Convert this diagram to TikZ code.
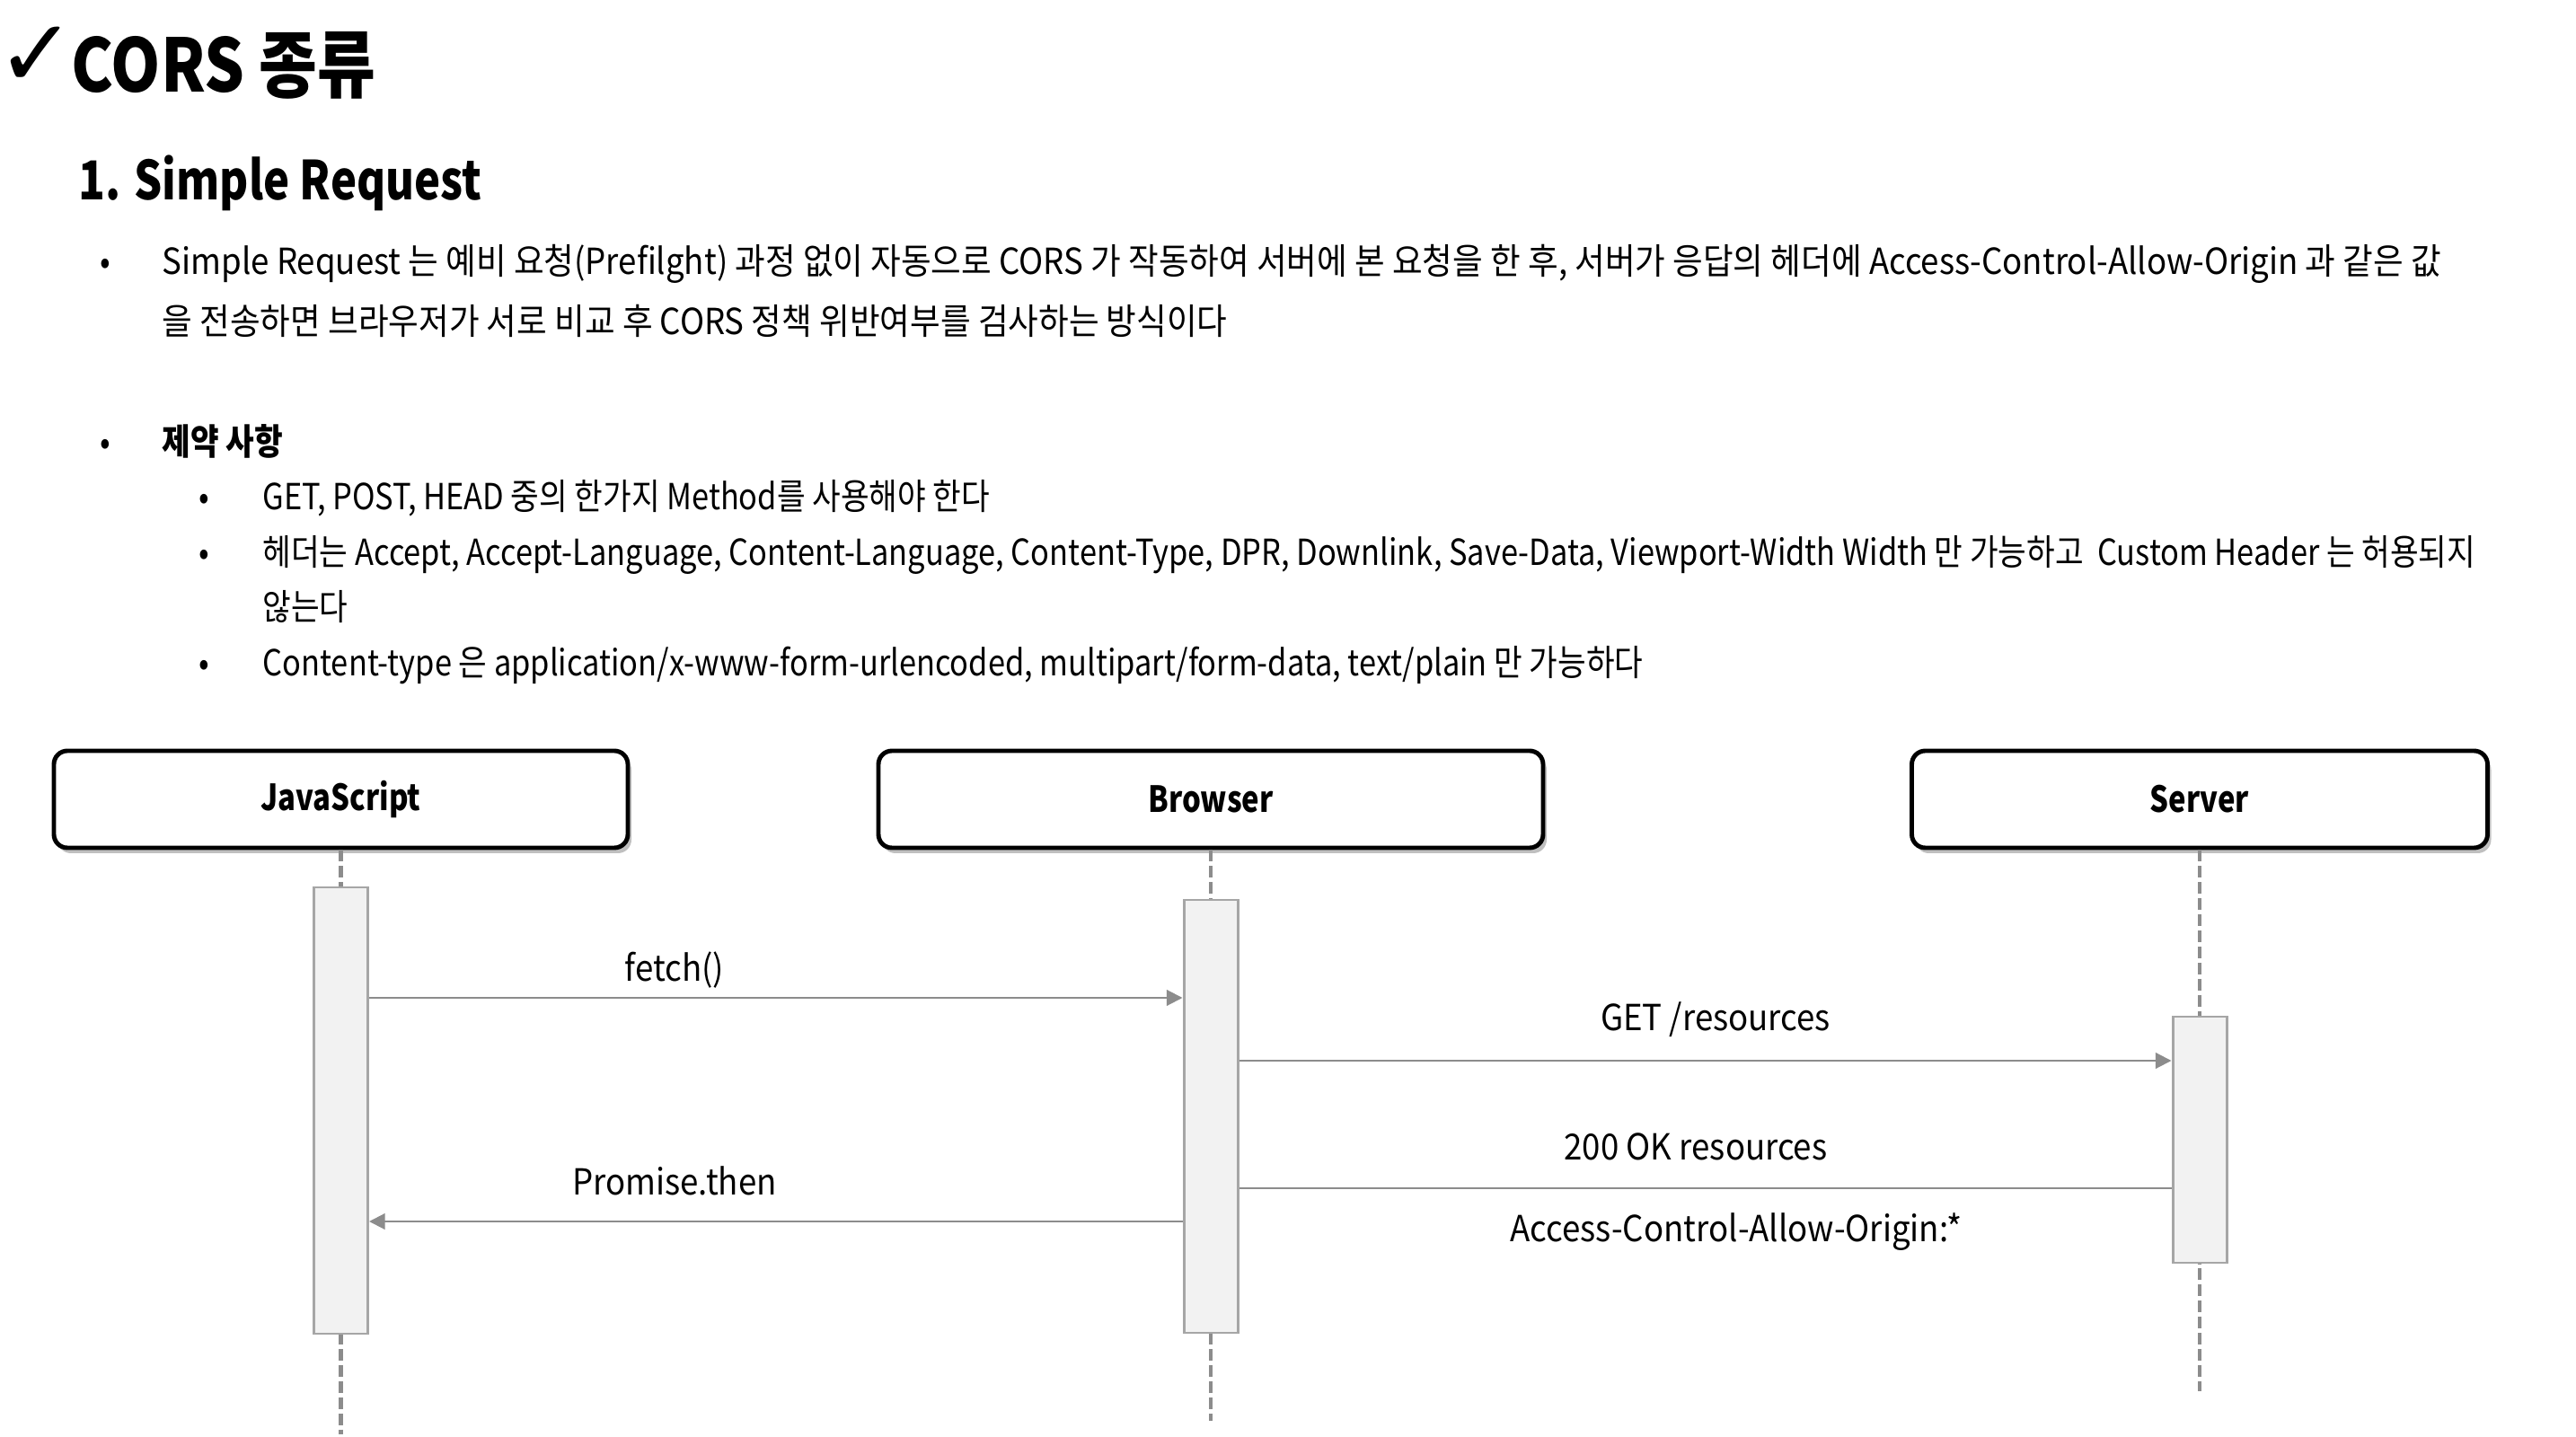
\documentclass[tikz,border=0pt]{standalone}
\usepackage{xcolor}
\usepackage{fontspec}
\setmainfont{Noto Sans CJK KR}[FakeStretch=0.86]
\newfontfamily\widefont{Noto Sans CJK KR}[FakeStretch=0.915]
\newfontfamily\narrowfont{Noto Sans CJK KR}[FakeStretch=0.82]
\newfontfamily\checkfont{DejaVu Sans}
\usepackage{tikz}
\usetikzlibrary{arrows.meta,shadows}

\definecolor{lifegray}{HTML}{8C8C8C}
\definecolor{msggray}{HTML}{8C8C8C}
\definecolor{barfill}{HTML}{F2F2F2}
\definecolor{bardraw}{HTML}{A6A6A6}

\begin{document}
\begin{tikzpicture}[
  actor/.style={draw=black, line width=1.4pt, rounded corners=0.15cm, fill=white, minimum height=1.08cm,
    font=\narrowfont\fontsize{11.4pt}{13pt}\selectfont\bfseries,
    drop shadow={shadow xshift=0.04cm, shadow yshift=-0.06cm, fill=black, opacity=0.25}},
  actbar/.style={draw=bardraw, line width=0.85pt, fill=barfill, minimum width=0.6cm, inner sep=0pt},
  lifeline/.style={draw=lifegray, line width=1.4pt, dash pattern=on 3.7pt off 1.4pt},
  msg/.style={draw=msggray, line width=0.6pt},
  bodytext/.style={anchor=base west, inner sep=0pt, font=\fontsize{11.38pt}{13pt}\selectfont},
  bulletdot/.style={anchor=base, inner sep=0pt, font=\fontsize{11.38pt}{13pt}\selectfont},
  msglabel/.style={inner sep=0pt, font=\widefont\fontsize{11.38pt}{13pt}\selectfont}
]
\useasboundingbox (0,0) rectangle (28.68,-16);

% title
\node[inner sep=0pt, font=\checkfont\fontsize{30pt}{32pt}\selectfont\bfseries] (check) at (0.41,-0.63) {✓};
\node[anchor=base west, inner sep=0pt, font=\fontsize{23.3pt}{26pt}\selectfont\bfseries] (title) at (0.79,-1.03) {CORS 종류};
\node[anchor=base west, inner sep=0pt, font=\narrowfont\fontsize{17pt}{20pt}\selectfont\bfseries] (subtitle) at (0.87,-2.23) {1. Simple Request};

% bullets
\node[bulletdot] (b1) at (1.17,-3.06) {•};
\node[bodytext, font=\widefont\fontsize{11.38pt}{13pt}\selectfont] (t1a) at (1.80,-3.06) {Simple Request 는 예비 요청(Prefilght) 과정 없이 자동으로 CORS 가 작동하여 서버에 본 요청을 한 후, 서버가 응답의 헤더에 Access-Control-Allow-Origin 과 같은 값};
\node[bodytext, font=\widefont\fontsize{11.38pt}{13pt}\selectfont] (t1b) at (1.80,-3.73) {을 전송하면 브라우저가 서로 비교 후 CORS 정책 위반여부를 검사하는 방식이다};
\node[bulletdot] (b2) at (1.17,-5.07) {•};
\node[bodytext, font=\fontsize{11.38pt}{13pt}\selectfont\bfseries] (t2) at (1.80,-5.07) {제약 사항};
\node[bulletdot] (b3) at (2.27,-5.68) {•};
\node[bodytext] (t3) at (2.92,-5.68) {GET, POST, HEAD 중의 한가지 Method를 사용해야 한다};
\node[bulletdot] (b4) at (2.27,-6.30) {•};
\node[bodytext] (t4a) at (2.92,-6.30) {헤더는 Accept, Accept-Language, Content-Language, Content-Type, DPR, Downlink, Save-Data, Viewport-Width Width 만 가능하고\ \ Custom Header 는 허용되지};
\node[bodytext] (t4b) at (2.92,-6.91) {않는다};
\node[bulletdot] (b5) at (2.27,-7.53) {•};
\node[bodytext] (t5) at (2.92,-7.53) {Content-type 은 application/x-www-form-urlencoded, multipart/form-data, text/plain 만 가능하다};

% actors
\node[actor, minimum width=6.39cm] (js) at (3.795,-8.90) {JavaScript};
\node[actor, minimum width=7.40cm] (browser) at (13.48,-8.90) {Browser};
\node[actor, minimum width=6.41cm] (server) at (24.49,-8.90) {Server};

% lifelines
\coordinate (jsend) at (3.795,-15.97);
\coordinate (browserend) at (13.48,-15.82);
\coordinate (serverend) at (24.49,-15.49);
\draw[lifeline] (js.south) -- (jsend);
\draw[lifeline] (browser.south) -- (browserend);
\draw[lifeline] (server.south) -- (serverend);

% activation bars
\node[actbar, minimum height=4.97cm] (jsbar) at (3.795,-12.365) {};
\node[actbar, minimum height=4.82cm] (browserbar) at (13.48,-12.43) {};
\node[actbar, minimum height=2.74cm] (serverbar) at (24.49,-12.69) {};

% messages
\coordinate (m1) at (0,-11.11);
\coordinate (m2) at (0,-11.81);
\coordinate (m3) at (0,-13.23);
\coordinate (m4) at (0,-13.60);
\draw[msg, -{Triangle[length=5pt,width=5pt]}] (jsbar.east |- m1) -- (browserbar.west |- m1);
\draw[msg, -{Triangle[length=5pt,width=5pt]}] (browserbar.east |- m2) -- (serverbar.west |- m2);
\draw[msg] (serverbar.west |- m3) -- (browserbar.east |- m3);
\draw[msg, -{Triangle[length=5pt,width=5pt]}] (browserbar.west |- m4) -- (jsbar.east |- m4);

\node[msglabel] (l1) at (7.51,-10.80) {fetch()};
\node[msglabel] (l2) at (19.10,-11.35) {GET /resources};
\node[msglabel] (l3) at (18.88,-12.77) {200 OK resources};
\node[msglabel] (l4) at (19.33,-13.72) {Access-Control-Allow-Origin:*};
\node[msglabel] (l5) at (7.51,-13.15) {Promise.then};
\end{tikzpicture}
\end{document}
